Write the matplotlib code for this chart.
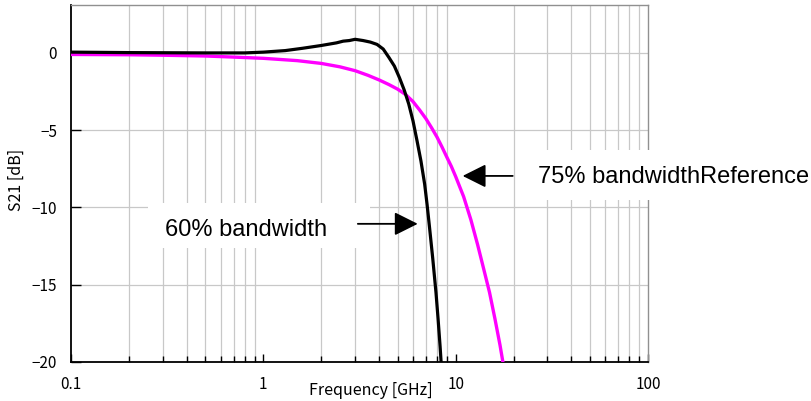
import matplotlib
matplotlib.use("Agg")
import matplotlib.pyplot as plt
from matplotlib.patches import Rectangle
from matplotlib.ticker import FixedLocator, FixedFormatter, NullFormatter

# Datos (frecuencia en GHz, S21 en dB)
freq_60 = [0.1, 0.2, 0.5, 0.8, 1.0, 1.3, 1.6, 2.0, 2.4, 2.6, 2.8, 3.0, 3.3, 3.6, 3.9,
           4.2, 4.5, 4.8, 5.1, 5.4, 5.7, 6.0, 6.3, 6.6, 6.9, 7.1, 7.3, 7.6, 7.9, 8.1, 8.3, 8.45]
s21_60 = [0.05, 0.02, 0.0, 0.0, 0.05, 0.15, 0.3, 0.48, 0.65, 0.76, 0.8, 0.88, 0.8, 0.7, 0.55,
          0.25, -0.3, -0.85, -1.6, -2.4, -3.3, -4.4, -5.7, -7.0, -8.5, -9.8, -11.2, -13.3, -15.5, -17.2, -19.0, -20.5]

freq_75 = [0.1, 0.2, 0.3, 0.5, 0.7, 1.0, 1.5, 2.0, 2.5, 3.0, 3.5, 4.0, 4.5, 5.0, 5.5, 6.0,
           6.5, 7.0, 7.5, 8.0, 8.5, 9.0, 9.5, 10, 11, 12, 13, 14, 15, 16, 17, 17.6]
s21_75 = [-0.1, -0.12, -0.15, -0.2, -0.27, -0.35, -0.5, -0.68, -0.9, -1.15, -1.45, -1.75, -2.05, -2.35, -2.7, -3.15,
          -3.7, -4.25, -4.85, -5.45, -6.1, -6.75, -7.35, -8.0, -9.3, -10.8, -12.4, -14.0, -15.5, -17.2, -18.9, -20.0]

x_ticks = [0.1, 1, 10, 100]
x_tick_labels = ["0.1", "1", "10", "100"]
y_ticks = [-20, -15, -10, -5, 0]
y_tick_labels = ["\u221220", "\u221215", "\u221210", "\u22125", "0"]

label_font = ["Noto Sans CJK JP", "DejaVu Sans"]
note_font = ["Liberation Sans", "DejaVu Sans"]

fig = plt.figure(figsize=(8.11, 4.01), dpi=100)
ax = fig.add_axes([71 / 811, 39 / 401, 577 / 811, 357 / 401])

ax.plot(freq_75, s21_75, color="#ff00ff", lw=2.4, zorder=4)
ax.plot(freq_60, s21_60, color="black", lw=2.3, zorder=5)

ax.set_xscale("log")
ax.set_xlim(0.1, 100)
ax.set_ylim(-20, 3.1)

ax.xaxis.set_major_locator(FixedLocator(x_ticks))
ax.xaxis.set_major_formatter(FixedFormatter(x_tick_labels))
minors = [m * d for d in [0.1, 1, 10] for m in range(2, 10)]
ax.xaxis.set_minor_locator(FixedLocator(minors))
ax.xaxis.set_minor_formatter(NullFormatter())
ax.yaxis.set_major_locator(FixedLocator(y_ticks))
ax.yaxis.set_major_formatter(FixedFormatter(y_tick_labels))

# rejilla gris solo en las divisiones menores
ax.set_axisbelow(True)
ax.grid(True, which="minor", axis="x", color="#c8c8c8", lw=0.9)
ax.grid(True, which="major", axis="y", color="#c8c8c8", lw=0.9)

ax.tick_params(axis="x", which="major", direction="in", length=6, width=1, pad=10, labelsize=11)
ax.tick_params(axis="x", which="minor", direction="in", length=4, width=1)
ax.tick_params(axis="y", direction="in", length=7, width=1, pad=10, labelsize=11)
for lab in ax.get_xticklabels() + ax.get_yticklabels():
    lab.set_family(label_font)

for side in ["left", "bottom"]:
    ax.spines[side].set_color("black")
    ax.spines[side].set_linewidth(1.3)
for side in ["top", "right"]:
    ax.spines[side].set_color("#909090")
    ax.spines[side].set_linewidth(1.0)

ax.set_xlabel("Frequency [GHz]", family=label_font, fontsize=11.5, va="center")
ax.xaxis.set_label_coords(0.52, -0.08)
ax.set_ylabel("S21 [dB]", family=label_font, fontsize=11.5, va="center")
ax.yaxis.set_label_coords(-0.095, 0.51)

# cajas blancas de las etiquetas (tapan la rejilla)
fig_h = 401
ax.add_patch(Rectangle((148 / 811, 1 - 248 / fig_h), 222 / 811, 45 / fig_h,
                       transform=fig.transFigure, facecolor="white", edgecolor="none",
                       clip_on=False, zorder=3))
ax.add_patch(Rectangle((522 / 811, 1 - 200 / fig_h), 289 / 811, 50 / fig_h,
                       transform=fig.transFigure, facecolor="white", edgecolor="none",
                       clip_on=False, zorder=3))

fig.text(165 / 811, 1 - 230 / fig_h, "60% bandwidth", family=note_font, fontsize=17,
         va="center", ha="left", zorder=6)
fig.text(538 / 811, 1 - 177 / fig_h, "75% bandwidthReference", family=note_font, fontsize=17,
         va="center", ha="left", zorder=6)

arrow = dict(arrowstyle="-|>,head_length=1.44,head_width=0.72", color="black", lw=1.3,
             shrinkA=0, shrinkB=0)
ax.annotate("", xy=(6.35, -11.06), xytext=(3.10, -11.06), arrowprops=arrow, zorder=6)
ax.annotate("", xy=(10.87, -7.96), xytext=(19.8, -7.96), arrowprops=arrow, zorder=6)

plt.savefig("out.png", dpi=100)
plt.close()
